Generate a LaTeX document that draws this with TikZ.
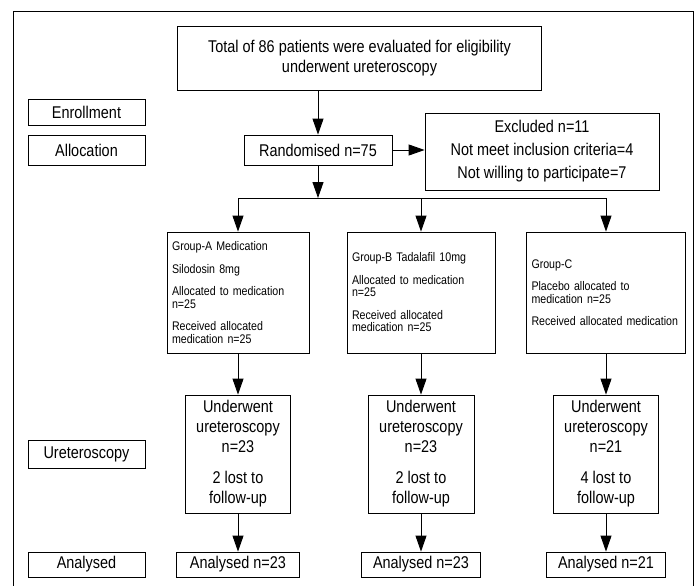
\documentclass[tikz,border=0pt]{standalone}
\usepackage{fontspec}
\setmainfont{Liberation Sans}[FakeStretch=0.85]
\usetikzlibrary{arrows.meta}
\newcommand\bigtxt{\fontsize{17}{20}\selectfont}
\newcommand\smalltxt{\fontsize{12.5}{12.5}\selectfont}
\tikzset{
  bx/.style={draw, line width=0.8pt, inner sep=0pt, align=center, font=\bigtxt},
  gbx/.style={draw, line width=0.8pt, inner xsep=5pt, inner ysep=0pt, align=left, font=\smalltxt, minimum height=121pt},
  arr/.style={line width=0.9pt, -{Triangle[length=16pt,width=11pt]}},
  ln/.style={line width=0.9pt},
}
\begin{document}
\begin{tikzpicture}[x=1pt,y=-1pt]
\useasboundingbox (0,0) rectangle (696,586);
\draw[line width=1pt] (13,586) -- (13,12) -- (693,12) -- (693,586);
% top
\node[bx, minimum width=364pt, minimum height=64pt] (top) at (359.5,58) {Total of 86 patients were evaluated for eligibility\\underwent ureteroscopy};
% stage labels
\node[bx, minimum width=117pt, minimum height=26pt] (enr) at (86.5,112) {Enrollment};
\node[bx, minimum width=117pt, minimum height=30pt] (alc) at (86.5,150) {Allocation};
\node[bx, minimum width=117pt, minimum height=28pt] (ure) at (86.5,454) {Ureteroscopy};
\node[bx, minimum width=117pt, minimum height=25pt] (ana) at (86.5,564.5) {Analysed};
% randomised & excluded
\node[bx, minimum width=148pt, minimum height=30pt] (rand) at (318,150) {Randomised n=75};
\node[bx, minimum width=234pt, minimum height=77pt] (excl) at (542,151.5) {Excluded n=11\\[3pt]Not meet inclusion criteria=4\\[3pt]Not willing to participate=7};
% groups
\node[gbx, text width=132pt] (gA) at (238,292.5) {Group-A Medication\\[10pt]Silodosin 8mg\\[10pt]Allocated to medication\\n=25\\[10pt]Received allocated\\medication n=25};
\node[gbx, text width=138pt] (gB) at (421,292.5) {Group-B Tadalafil 10mg\\[10pt]Allocated to medication\\n=25\\[10pt]Received allocated\\medication n=25};
\node[gbx, text width=149pt] (gC) at (606,292.5) {Group-C\\[10pt]Placebo allocated to\\medication n=25\\[10pt]Received allocated medication};
% underwent
\node[bx, minimum width=105pt, minimum height=118pt] (uA) at (238,454) {Underwent\\ureteroscopy\\n=23\\[11pt]2 lost to\\follow-up};
\node[bx, minimum width=106pt, minimum height=118pt] (uB) at (421,454) {Underwent\\ureteroscopy\\n=23\\[11pt]2 lost to\\follow-up};
\node[bx, minimum width=105pt, minimum height=118pt] (uC) at (606,454) {Underwent\\ureteroscopy\\n=21\\[11pt]4 lost to\\follow-up};
% analysed
\node[bx, minimum width=123pt, minimum height=25pt] (aA) at (238,564.5) {Analysed n=23};
\node[bx, minimum width=119pt, minimum height=25pt] (aB) at (421,564.5) {Analysed n=23};
\node[bx, minimum width=119pt, minimum height=25pt] (aC) at (606,564.5) {Analysed n=21};
% connectors
\coordinate (br) at (318,198);
\draw[arr] (top.south -| rand.north) -- (rand.north);
\draw[arr] (rand.east) -- (rand.east -| excl.west);
\draw[arr] (rand.south) -- (br);
\draw[ln] (br -| gA.north) -- (br -| gC.north);
\draw[arr] (br -| gA.north) -- (gA.north);
\draw[arr] (br -| gB.north) -- (gB.north);
\draw[arr] (br -| gC.north) -- (gC.north);
\draw[arr] (gA.south) -- (uA.north);
\draw[arr] (gB.south) -- (uB.north);
\draw[arr] (gC.south) -- (uC.north);
\draw[arr] (uA.south) -- (aA.north);
\draw[arr] (uB.south) -- (aB.north);
\draw[arr] (uC.south) -- (aC.north);
\end{tikzpicture}
\end{document}
